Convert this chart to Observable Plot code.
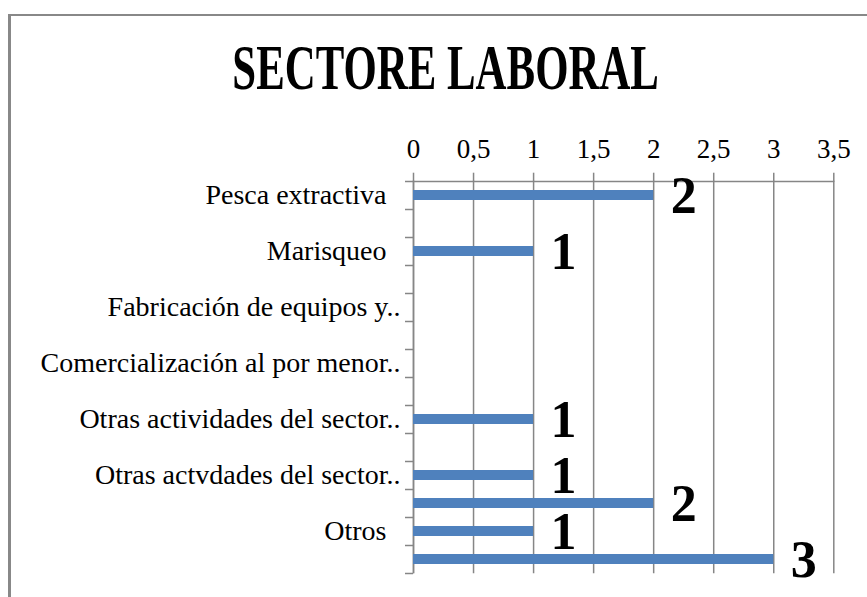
<!DOCTYPE html>
<html><head><meta charset="utf-8">
<script src="https://cdn.jsdelivr.net/npm/d3@7"></script>
<script src="https://cdn.jsdelivr.net/npm/@observablehq/plot@0.6"></script>
<style>
html,body{margin:0;padding:0;background:#fff;overflow:hidden;}
#frame{position:absolute;left:8px;top:14px;width:900px;height:650px;border-left:3px solid #888;border-top:2px solid #888;}
#head{position:relative;height:120px;}
#title{position:absolute;left:0;width:892px;top:37px;text-align:center;font-family:"Liberation Serif";font-weight:bold;font-size:63px;line-height:1;color:#000;}
#title span{display:inline-block;transform:scaleX(0.68);}
#chart{position:relative;}
</style></head>
<body><div id="frame"></div><div id="head"><div id="title"><span>SECTORE LABORAL</span></div></div><div id="chart"></div>
<script>
const categories = ["Pesca extractiva", "", "Marisqueo", "", "Fabricación de equipos y..", "", "Comercialización al por menor..", "", "Otras actividades del sector..", "", "Otras actvdades del sector..", "", "Otros", ""];
const values = [2, null, 1, null, null, null, null, null, 1, null, 1, 2, 1, 3];
const xTicks = [0, 0.5, 1, 1.5, 2, 2.5, 3, 3.5];

const rows = categories.map((c, i) => ({i, label: c, value: values[i]}));
const bars = rows.filter(d => d.value != null);
const idx = rows.map(d => d.i);
const gray = "#868686";
const fmt = d => String(d).replace(".", ",");
const lab = i => { const s = categories[i]; return s && !s.endsWith("..") ? s + "\u00a0\u00a0" : s; };

const chart = Plot.plot({
  width: 867, height: 477,
  marginLeft: 413, marginRight: 33.7, marginTop: 60.7, marginBottom: 23.7,
  style: {fontFamily: "Liberation Serif", fontSize: "27px", color: "#000", background: "transparent", overflow: "visible"},
  x: {domain: [0, 3.5], axis: null},
  y: {domain: idx, padding: 0, axis: null},
  marks: [
    Plot.gridX(xTicks, {stroke: gray, strokeOpacity: 1, strokeWidth: 1.5}),
    Plot.axisX(xTicks, {anchor: "top", tickSize: 9, tickPadding: 14, stroke: gray, strokeWidth: 1.5, tickFormat: fmt, label: null, fill: "#000"}),
    Plot.ruleY([0], {stroke: gray, strokeWidth: 1.5, dy: -14}),
    Plot.ruleX([0], {stroke: gray, strokeWidth: 1.5}),
    Plot.axisY(idx, {anchor: "left", tickSize: 8, tickFormat: () => "", dy: -14, stroke: gray, strokeWidth: 1.5, label: null}),
    Plot.axisY([13], {anchor: "left", tickSize: 8, tickFormat: () => "", dy: 14, stroke: gray, strokeWidth: 1.5, label: null}),
    Plot.axisY(idx, {anchor: "left", tickSize: 0, tickPadding: 13, tickFormat: lab, label: null, fill: "#000", fontSize: 28}),
    Plot.barX(bars, {x: "value", y: "i", fill: "#4f81bd", insetTop: 9, insetBottom: 9}),
    Plot.text(bars, {x: "value", y: "i", text: d => String(d.value), textAnchor: "start", dx: 17, dy: 1, fontSize: 52, fontWeight: "bold", fill: "#000"})
  ]
});
document.getElementById("chart").appendChild(chart);
</script>
</body></html>
